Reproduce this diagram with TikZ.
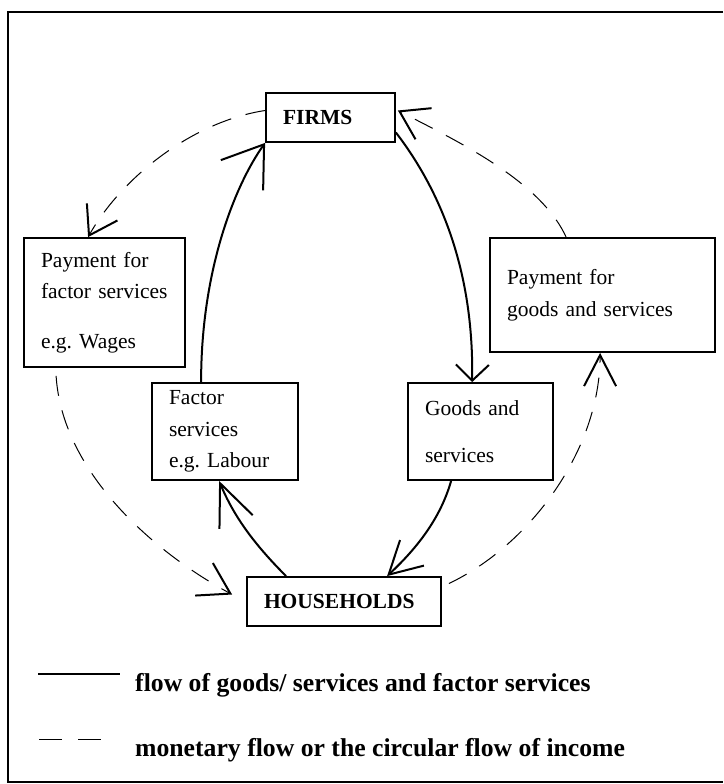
\documentclass[tikz,border=0pt]{standalone}
\usepackage{fontspec}
\setmainfont{Liberation Serif}
\usetikzlibrary{arrows.meta}
\frenchspacing

\tikzset{
  flowbox/.style={draw, rectangle, line width=1.8pt, inner xsep=17pt, inner ysep=0pt,
    align=left, font=\fontsize{21.5}{31.5}\selectfont},
  headbox/.style={flowbox, font=\fontsize{21.5}{31.5}\selectfont\bfseries},
  goodsflow/.style={line width=2pt},
  moneyflow/.style={line width=1pt, dash pattern=on 20pt off 15pt},
  barbtip/.style 2 args={-{Straight Barb[length=#1,width=#2,line width=2pt]}},
  legendtext/.style={font=\fontsize{25.7}{30}\selectfont\bfseries, inner sep=0pt}
}

\begin{document}
\begin{tikzpicture}[x=1pt,y=-1pt]
  \useasboundingbox (0,0) rectangle (723,784);
  \draw[line width=1.8pt] (723,12) -- (8,12) -- (8,782) -- (723,782);

  % the boxes
  \node[headbox, text width=95pt, minimum width=129pt, minimum height=49pt] (firms) at (330.5,117.5) {FIRMS};
  \node[headbox, text width=160pt, minimum width=194pt, minimum height=49pt] (house) at (344,601.5) {HOUSEHOLDS};
  \node[flowbox, text width=127pt, minimum width=161pt, minimum height=129pt] (payfac) at (104.5,302.5)
    {Payment for\\ factor services\\[18pt] e.g. Wages};
  \node[flowbox, text width=191pt, minimum width=225pt, minimum height=114pt] (paygoods) at (602.5,295)
    {Payment for\\ goods and services};
  \node[flowbox, text width=112pt, minimum width=146pt, minimum height=97pt] (factor) at (225,431.5)
    {Factor\\ services\\ e.g. Labour};
  \node[flowbox, text width=111pt, minimum width=145pt, minimum height=97pt] (goods) at (480.5,431.5)
    {Goods and\\[15pt] services};

  % goods and factor services
  \draw[goodsflow, barbtip={38pt}{52pt}] ([xshift=50pt]factor.north west)
    .. controls (201,270) and (235,185) .. (firms.south west);
  \draw[goodsflow, barbtip={16pt}{33pt}] ([yshift=-15pt]firms.east)
    .. controls (440,190) and (474,270) .. ([xshift=65pt]goods.north west);
  \draw[goodsflow, barbtip={42pt}{36pt}] ([xshift=40pt]house.north west)
    .. controls (255,545) and (234,517) .. ([xshift=68pt]factor.south west);
  \draw[goodsflow, barbtip={32pt}{35pt}] ([xshift=44pt]goods.south west)
    .. controls (440,520) and (415,550) .. ([xshift=141pt]house.north west);

  % money (dashed)
  \draw[moneyflow, barbtip={27pt}{35pt}] ([yshift=7pt]firms.west)
    .. controls (190,122) and (120,180) .. ([xshift=65pt]payfac.north west);
  \draw[moneyflow, barbtip={30pt}{37pt}] ([xshift=33pt,yshift=-8pt]payfac.south west)
    .. controls (62,470) and (150,550) .. ([xshift=-14pt,yshift=7pt]house.west);
  \draw[moneyflow, barbtip={31pt}{32pt}] ([xshift=7pt,yshift=18pt]house.east)
    .. controls (530,545) and (600,450) .. ([xshift=111pt]paygoods.south west);
  \draw[moneyflow, barbtip={27pt}{35pt}] ([xshift=77pt]paygoods.north west)
    .. controls (540,180) and (455,140) .. ([xshift=2pt,yshift=7pt]firms.east);

  % legend
  \draw[goodsflow] (38,674) -- (120,674);
  \node[legendtext, anchor=base west] (goodslegend) at (135,691) {flow of goods/ services and factor services};
  \draw[moneyflow, dash pattern=on 23pt off 16pt] (39,739) -- (101,739);
  \node[legendtext, anchor=base west] (moneylegend) at (135,756) {monetary flow or the circular flow of income};
\end{tikzpicture}
\end{document}
